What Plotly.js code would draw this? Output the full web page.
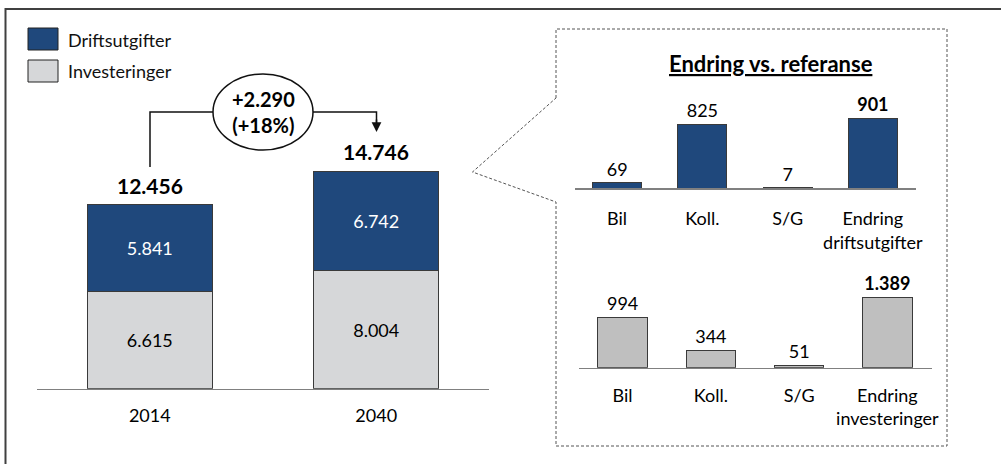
<!DOCTYPE html>
<html>
<head>
<meta charset="utf-8">
<script src="https://cdn.plot.ly/plotly-3.0.1.min.js"></script>
<style>html,body{margin:0;padding:0;background:#fff;}#chart{width:1001px;height:464px;}</style>
</head>
<body>
<div id="chart"></div>
<script>
// ---- data ----
var years = ['2014', '2040'];
var driftsutgifter = [5841, 6742];
var investeringer = [6615, 8004];
var changeCats = ['Bil', 'Koll.', 'S/G'];
var driftChange = [69, 825, 7];
var investChange = [994, 344, 51];
var driftTotalLabel = 'Endring<br>driftsutgifter';
var investTotalLabel = 'Endring<br>investeringer';

var BLUE = '#1F487C', LIGHT = '#D6D7D9', GREY = '#BFBFBF';
var FONT = 'Lato, "Open Sans", sans-serif';
var W = 1001, H = 464;
function px(x) { return x / W; }
function py(y) { return 1 - y / H; }
function fmt(n) { return String(n).replace(/\B(?=(\d{3})+(?!\d))/g, '.'); }
function sum(a) { return a.reduce(function (s, v) { return s + v; }, 0); }

var totals = years.map(function (_, i) { return driftsutgifter[i] + investeringer[i]; });
var diff = totals[1] - totals[0];
var pct = Math.round(diff / totals[0] * 100);

var driftCats = changeCats.concat([driftTotalLabel]);
var driftVals = driftChange.concat([sum(driftChange)]);
var investCats = changeCats.concat([investTotalLabel]);
var investVals = investChange.concat([sum(investChange)]);
function labels(vals) {
  return vals.map(function (v, i) { return i === vals.length - 1 ? '<b>' + fmt(v) + '</b>' : fmt(v); });
}

var traces = [
  { type: 'bar', x: years, y: investeringer, name: 'Investeringer', xaxis: 'x', yaxis: 'y', width: 0.552,
    marker: { color: LIGHT, line: { color: '#3a3a3a', width: 1 } },
    texttemplate: '%{y:,}', textposition: 'inside', insidetextanchor: 'middle',
    insidetextfont: { family: FONT, size: 18, color: '#000' }, hoverinfo: 'skip' },
  { type: 'bar', x: years, y: driftsutgifter, name: 'Driftsutgifter', xaxis: 'x', yaxis: 'y', width: 0.552,
    marker: { color: BLUE, line: { color: '#3a3a3a', width: 1 } },
    texttemplate: '%{y:,}', textposition: 'inside', insidetextanchor: 'middle',
    insidetextfont: { family: FONT, size: 18, color: '#fff' }, hoverinfo: 'skip' },
  { type: 'bar', x: driftCats, y: driftVals, xaxis: 'x2', yaxis: 'y2', width: 0.576,
    marker: { color: BLUE, line: { color: '#3a3a3a', width: 1 } },
    text: labels(driftVals), texttemplate: '%{text}', textposition: 'outside', cliponaxis: false,
    outsidetextfont: { family: FONT, size: 18, color: '#000' }, hoverinfo: 'skip' },
  { type: 'bar', x: investCats, y: investVals, xaxis: 'x3', yaxis: 'y3', width: 0.562,
    marker: { color: GREY, line: { color: '#3a3a3a', width: 1 } },
    text: labels(investVals), texttemplate: '%{text}', textposition: 'outside', cliponaxis: false,
    outsidetextfont: { family: FONT, size: 18, color: '#000' }, hoverinfo: 'skip' }
];

function xax(d, extra) {
  var a = { domain: d, type: 'category', range: [-0.5, 3.5], showline: true, linecolor: '#808080', linewidth: 1.5,
    showgrid: false, zeroline: false, ticks: '', tickfont: { family: FONT, size: 18, color: '#000' }, fixedrange: true };
  for (var k in extra) a[k] = extra[k];
  return a;
}
function yax(d, r) {
  return { domain: d, range: r, visible: false, showgrid: false, zeroline: false, fixedrange: true };
}

var line = { color: '#111', width: 1.5 };
var shapes = [
  // outer frame
  { type: 'path', xref: 'paper', yref: 'paper', path: 'M' + px(5.5) + ',' + py(464) + ' L' + px(5.5) + ',' + py(9) + ' L' + px(1001) + ',' + py(9),
    line: { color: '#404040', width: 2 } },
  // legend swatches
  { type: 'rect', xref: 'paper', yref: 'paper', x0: px(28), x1: px(58), y0: py(28), y1: py(50), fillcolor: BLUE, line: { color: '#222', width: 1 } },
  { type: 'rect', xref: 'paper', yref: 'paper', x0: px(28), x1: px(58), y0: py(60), y1: py(82), fillcolor: LIGHT, line: { color: '#222', width: 1 } },
  // bracket
  { type: 'path', xref: 'paper', yref: 'paper',
    path: 'M' + px(150) + ',' + py(167) + ' L' + px(150) + ',' + py(112) + ' L' + px(376.5) + ',' + py(112) + ' L' + px(376.5) + ',' + py(124),
    line: line },
  { type: 'circle', xref: 'paper', yref: 'paper', x0: px(213), x1: px(313), y0: py(74), y1: py(150), fillcolor: '#fff', line: line, layer: 'above' },
  // callout dashed box
  { type: 'path', xref: 'paper', yref: 'paper',
    path: 'M' + px(556) + ',' + py(98) + ' L' + px(556) + ',' + py(29) + ' L' + px(947) + ',' + py(29) + ' L' + px(947) + ',' + py(446) +
      ' L' + px(556) + ',' + py(446) + ' L' + px(556) + ',' + py(202) + ' L' + px(472.5) + ',' + py(172) + ' Z',
    line: { color: '#555', width: 1, dash: '3px,2px' } }
];

var annotations = [
  { xref: 'paper', yref: 'paper', x: px(66), y: py(40), xanchor: 'left', yanchor: 'middle', showarrow: false,
    text: 'Driftsutgifter', font: { family: FONT, size: 18, color: '#111' } },
  { xref: 'paper', yref: 'paper', x: px(66), y: py(71), xanchor: 'left', yanchor: 'middle', showarrow: false,
    text: 'Investeringer', font: { family: FONT, size: 18, color: '#111' } },
  { xref: 'paper', yref: 'paper', x: px(263), y: py(112), xanchor: 'center', yanchor: 'middle', showarrow: false,
    text: '<b>+' + fmt(diff) + '<br>(+' + pct + '%)</b>', font: { family: FONT, size: 20, color: '#000' } },
  { xref: 'paper', yref: 'paper', x: px(376.5), y: py(132), ax: 0, ay: -14, showarrow: true, arrowhead: 2, arrowsize: 1.3,
    arrowwidth: 1.5, arrowcolor: '#111', text: '' },
  { xref: 'paper', yref: 'paper', x: px(771), y: py(63), xanchor: 'center', yanchor: 'middle', showarrow: false,
    text: '<b><u>Endring vs. referanse</u></b>', font: { family: FONT, size: 22, color: '#000' } }
];
years.forEach(function (yr, i) {
  annotations.push({ xref: 'x', yref: 'y', x: i, y: totals[i], yanchor: 'bottom', yshift: 5, showarrow: false,
    text: '<b>' + fmt(totals[i]) + '</b>', font: { family: FONT, size: 21, color: '#000' } });
});

var layout = {
  width: W, height: H, margin: { l: 0, r: 0, t: 0, b: 0 },
  paper_bgcolor: '#fff', plot_bgcolor: 'rgba(0,0,0,0)',
  barmode: 'stack', showlegend: false, separators: ',.',
  font: { family: FONT, color: '#000' },
  xaxis: xax([px(36.6), px(489.4)], { range: [-0.5, 1.5], ticklabelstandoff: 10 }),
  yaxis: yax([py(388.7), py(93.7)], [0, 20000]),
  xaxis2: xax([px(574.5), px(915.5)], { anchor: 'y2', ticklabelstandoff: 14 }),
  yaxis2: yax([py(188.3), py(110.8)], [0, 1000]),
  xaxis3: xax([px(578.5), px(931.5)], { anchor: 'y3', ticklabelstandoff: 11 }),
  yaxis3: yax([py(367.7), py(291.8)], [0, 1500]),
  shapes: shapes, annotations: annotations
};
layout.yaxis2.anchor = 'x2';
layout.yaxis3.anchor = 'x3';

Plotly.newPlot('chart', traces, layout, { staticPlot: true, displayModeBar: false });
</script>
</body>
</html>
